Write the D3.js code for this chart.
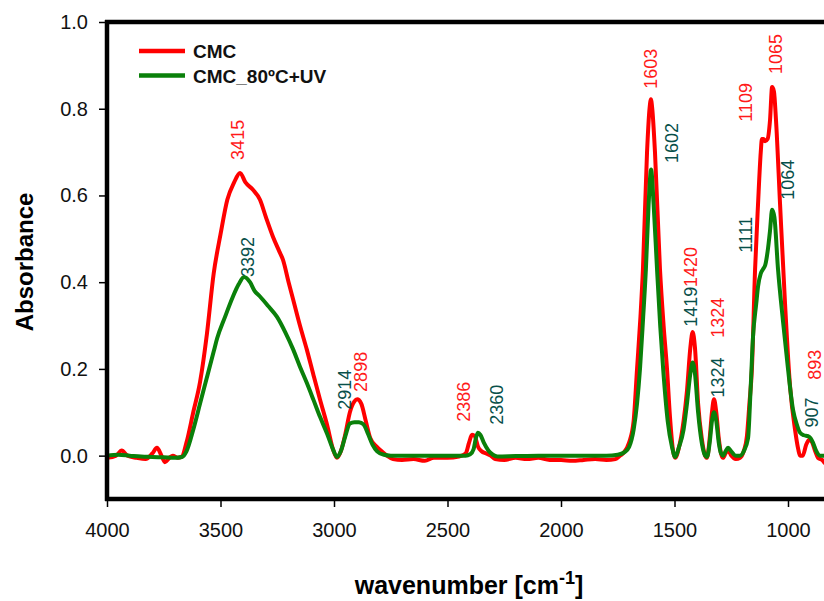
<!DOCTYPE html>
<html>
<head>
<meta charset="utf-8">
<script src="https://cdn.jsdelivr.net/npm/d3@7"></script>
<style>
  body { margin: 0; background: #fff; }
  svg { display: block; font-family: "Liberation Sans", Arial, sans-serif; }
</style>
</head>
<body>
<svg width="824" height="601"></svg>
<script>
// series names
var seriesNames = ["CMC", "CMC_80ºC+UV"];

// CMC spectrum: [wavenumber, absorbance]
var cmcData = [
  [4000, -0.005], [3960, 0.0], [3935, 0.012], [3910, 0.0], [3870, -0.005], [3830, -0.008],
  [3800, 0.005], [3780, 0.018], [3760, 0.0], [3745, -0.015], [3725, -0.005], [3710, 0.0],
  [3690, -0.005], [3670, -0.002], [3650, 0.03], [3620, 0.1], [3590, 0.17], [3560, 0.28],
  [3530, 0.42], [3500, 0.51], [3470, 0.59], [3440, 0.63], [3414, 0.652], [3390, 0.63],
  [3357, 0.613], [3326, 0.59], [3300, 0.55], [3269, 0.505], [3240, 0.47], [3225, 0.452],
  [3200, 0.40], [3180, 0.36], [3150, 0.30], [3120, 0.245], [3090, 0.185], [3062, 0.13],
  [3030, 0.07], [3004, 0.014], [2987, -0.005], [2970, 0.01], [2950, 0.05], [2930, 0.10],
  [2910, 0.125], [2898, 0.13], [2880, 0.12], [2860, 0.08], [2840, 0.04], [2811, 0.02],
  [2790, 0.01], [2767, 0.0], [2740, -0.008], [2700, -0.01], [2650, -0.008], [2600, -0.012],
  [2560, -0.005], [2500, -0.005], [2450, -0.002], [2420, 0.005], [2405, 0.03], [2392, 0.048],
  [2380, 0.045], [2365, 0.02], [2350, 0.01], [2330, 0.005], [2310, 0.0], [2290, -0.008],
  [2250, -0.01], [2200, -0.005], [2150, -0.008], [2100, -0.005], [2050, -0.01], [2000, -0.01],
  [1950, -0.012], [1900, -0.01], [1850, -0.008], [1800, -0.01], [1760, -0.008], [1740, 0.0],
  [1727, 0.005], [1700, 0.03], [1680, 0.08], [1665, 0.2], [1650, 0.32], [1639, 0.43],
  [1621, 0.70], [1610, 0.80], [1604, 0.822], [1598, 0.80], [1586, 0.70], [1564, 0.43],
  [1548, 0.30], [1533, 0.2], [1520, 0.09], [1506, 0.01], [1497, -0.005], [1480, 0.02],
  [1460, 0.08], [1445, 0.15], [1430, 0.25], [1420, 0.285], [1410, 0.25], [1396, 0.12],
  [1380, 0.04], [1365, 0.0], [1357, -0.005], [1345, 0.04], [1335, 0.10], [1326, 0.13],
  [1316, 0.10], [1305, 0.04], [1295, 0.005], [1286, -0.005], [1275, 0.005], [1264, 0.012],
  [1250, 0.0], [1230, -0.008], [1211, -0.005], [1195, 0.01], [1181, 0.045], [1170, 0.12],
  [1159, 0.2], [1145, 0.43], [1132, 0.58], [1120, 0.70], [1115, 0.73], [1108, 0.73],
  [1101, 0.725], [1090, 0.73], [1079, 0.775], [1070, 0.85], [1062, 0.84], [1053, 0.775],
  [1035, 0.58], [1013, 0.35], [991, 0.16], [969, 0.06], [955, 0.015], [947, 0.0],
  [935, 0.0], [920, 0.025], [905, 0.037], [893, 0.03], [880, 0.01], [868, -0.005],
  [850, -0.01], [830, -0.02], [810, -0.02]
];

// CMC_80ºC+UV spectrum: [wavenumber, absorbance]
var cmcUvData = [
  [4000, 0.0], [3950, 0.002], [3900, 0.0], [3850, -0.002], [3800, -0.003], [3750, -0.004],
  [3700, -0.005], [3670, -0.003], [3650, 0.01], [3620, 0.06], [3590, 0.12], [3560, 0.18],
  [3530, 0.24], [3515, 0.27], [3480, 0.32], [3445, 0.367], [3420, 0.395], [3396, 0.412],
  [3370, 0.40], [3350, 0.38], [3326, 0.367], [3290, 0.345], [3251, 0.32], [3215, 0.285],
  [3180, 0.245], [3150, 0.205], [3120, 0.168], [3090, 0.128], [3062, 0.09], [3030, 0.05],
  [3004, 0.014], [2987, -0.003], [2970, 0.01], [2950, 0.045], [2930, 0.074], [2910, 0.077],
  [2890, 0.077], [2870, 0.072], [2850, 0.05], [2830, 0.025], [2810, 0.01], [2780, 0.002],
  [2750, 0.0], [2600, 0.0], [2420, 0.0], [2400, 0.003], [2385, 0.015], [2375, 0.04],
  [2366, 0.053], [2355, 0.048], [2340, 0.03], [2320, 0.012], [2300, 0.002], [2280, -0.002],
  [2200, -0.001], [2100, 0.0], [2000, 0.0], [1900, 0.0], [1800, 0.0], [1750, 0.002],
  [1720, 0.008], [1700, 0.02], [1680, 0.06], [1665, 0.12], [1652, 0.2], [1638, 0.32],
  [1626, 0.43], [1614, 0.58], [1603, 0.66], [1592, 0.58], [1577, 0.43], [1563, 0.30],
  [1550, 0.2], [1530, 0.08], [1511, 0.02], [1497, -0.003], [1480, 0.02], [1460, 0.06],
  [1445, 0.12], [1430, 0.19], [1420, 0.215], [1410, 0.19], [1396, 0.10], [1380, 0.03],
  [1365, 0.0], [1357, -0.003], [1345, 0.03], [1335, 0.08], [1326, 0.10], [1316, 0.08],
  [1305, 0.03], [1295, 0.005], [1286, 0.0], [1275, 0.01], [1264, 0.018], [1250, 0.01],
  [1230, 0.0], [1211, 0.0], [1195, 0.01], [1176, 0.04], [1165, 0.15], [1154, 0.275],
  [1140, 0.35], [1132, 0.39], [1120, 0.42], [1110, 0.43], [1100, 0.44], [1090, 0.47],
  [1079, 0.52], [1070, 0.567], [1060, 0.55], [1044, 0.43], [1022, 0.31], [1000, 0.2],
  [978, 0.106], [960, 0.07], [947, 0.053], [930, 0.047], [912, 0.045], [900, 0.04],
  [890, 0.03], [875, 0.01], [859, 0.0], [840, 0.0], [810, 0.0]
];

// tick values
var xTicks = [4000, 3500, 3000, 2500, 2000, 1500, 1000];
var yTicks = [0.0, 0.2, 0.4, 0.6, 0.8, 1.0];

// peak labels: text, series index, anchor point in data units
var peakLabels = [
  ["3415", 0, 3396, 0.682], ["3392", 1, 3352, 0.412],
  ["2914", 1, 2925, 0.106], ["2898", 0, 2855, 0.147],
  ["2386", 0, 2401, 0.078], ["2360", 1, 2256, 0.071],
  ["1603", 0, 1577, 0.846], ["1602", 1, 1485, 0.675],
  ["1420", 0, 1401, 0.389], ["1419", 1, 1401, 0.297],
  ["1324", 0, 1282, 0.272], ["1324", 1, 1282, 0.134],
  ["1109", 0, 1159, 0.770], ["1111", 1, 1159, 0.468],
  ["1065", 0, 1026, 0.880], ["1064", 1, 974, 0.590],
  ["893", 0, 856, 0.175], ["907", 1, 866, 0.065]
];

var lineColors = ["#ff0000", "#0a800a"];
var labelColors = ["#ff1a1a", "#08504a"];

var svg = d3.select("svg");

// scales
var x = d3.scaleLinear().domain([4000, 1000]).range([107, 788]);
var y = d3.scaleLinear().domain([-0.1, 1.0]).range([499, 22]);

// curves
var line = d3.line()
  .x(function (d) { return x(d[0]); })
  .y(function (d) { return y(d[1]); })
  .curve(d3.curveMonotoneX);

svg.selectAll(".spectrum")
  .data([cmcData, cmcUvData])
  .enter().append("path")
  .attr("class", "spectrum")
  .attr("d", line)
  .attr("fill", "none")
  .attr("stroke", function (d, i) { return lineColors[i]; })
  .attr("stroke-width", 4)
  .attr("stroke-linejoin", "round");

// axes
var yAxis = svg.append("g")
  .attr("transform", "translate(107,0)")
  .call(d3.axisLeft(y).tickValues(yTicks).tickFormat(d3.format(".1f")).tickSize(8).tickSizeOuter(0).tickPadding(11));

var xAxis = svg.append("g")
  .attr("transform", "translate(0,499)")
  .call(d3.axisBottom(x).tickValues(xTicks).tickFormat(d3.format("d")).tickSize(8).tickSizeOuter(0).tickPadding(16));

[yAxis, xAxis].forEach(function (g) {
  g.select(".domain").remove();
  g.selectAll(".tick line").attr("stroke", "#000").attr("stroke-width", 1.5);
  g.selectAll(".tick text")
    .attr("fill", "#111")
    .style("font-size", "20px")
    .style("font-family", "'Liberation Sans', Arial, sans-serif");
});

// frame: left, bottom and top thick lines
svg.append("line").attr("x1", 107).attr("x2", 107).attr("y1", 20).attr("y2", 501)
  .attr("stroke", "#000").attr("stroke-width", 4.5);
svg.append("line").attr("x1", 105).attr("x2", 824).attr("y1", 499).attr("y2", 499)
  .attr("stroke", "#000").attr("stroke-width", 4.5);
svg.append("line").attr("x1", 105).attr("x2", 824).attr("y1", 22).attr("y2", 22)
  .attr("stroke", "#000").attr("stroke-width", 4.5);

// axis titles
svg.append("text")
  .attr("transform", "translate(33,262) rotate(-90)")
  .attr("text-anchor", "middle")
  .style("font-size", "24px")
  .style("font-weight", "bold")
  .text("Absorbance");

var xTitle = svg.append("text")
  .attr("x", 469)
  .attr("y", 594)
  .attr("text-anchor", "middle")
  .style("font-size", "25px")
  .style("font-weight", "bold");
xTitle.append("tspan").text("wavenumber [cm");
xTitle.append("tspan").attr("dy", -10).style("font-size", "18px").text("-1");
xTitle.append("tspan").attr("dy", 10).text("]");

// peak labels
svg.selectAll(".peak")
  .data(peakLabels)
  .enter().append("text")
  .attr("class", "peak")
  .attr("transform", function (d) {
    return "translate(" + x(d[2]) + "," + y(d[3]) + ") rotate(-90)";
  })
  .attr("fill", function (d) { return labelColors[d[1]]; })
  .style("font-size", "18px")
  .text(function (d) { return d[0]; });

// legend
var legend = svg.selectAll(".legend")
  .data(seriesNames)
  .enter().append("g")
  .attr("class", "legend")
  .attr("transform", function (d, i) { return "translate(139," + (51 + i * 24.5) + ")"; });

legend.append("line")
  .attr("x1", 0).attr("x2", 46)
  .attr("stroke", function (d, i) { return lineColors[i]; })
  .attr("stroke-width", 4.5);

legend.append("text")
  .attr("x", 54)
  .attr("y", 7)
  .style("font-size", "19px")
  .style("font-weight", "bold")
  .attr("fill", "#111")
  .text(function (d) { return d; });
</script>
</body>
</html>
